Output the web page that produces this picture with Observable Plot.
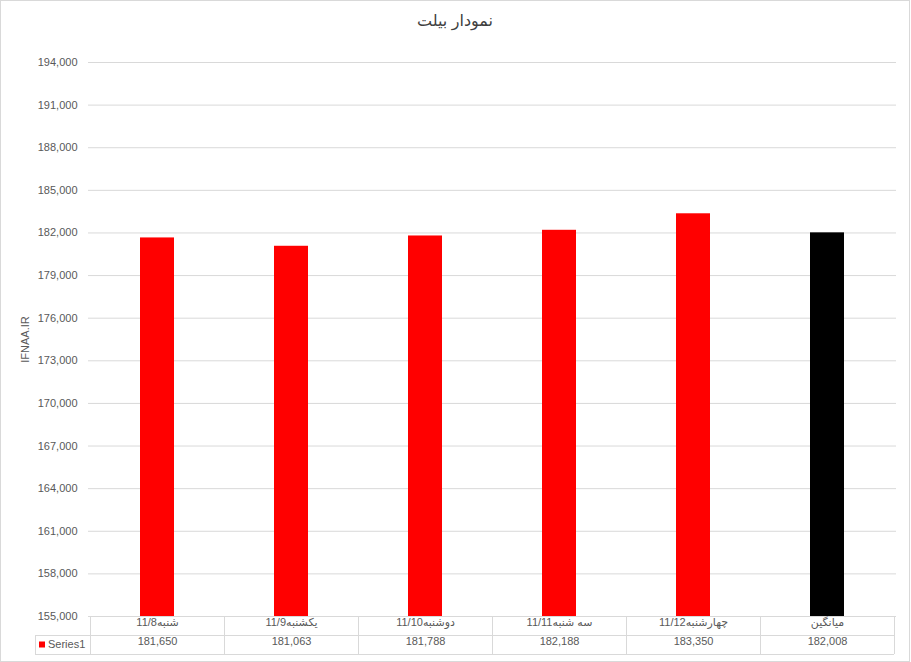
<!DOCTYPE html>
<html><head><meta charset="utf-8">
<script src="https://cdn.jsdelivr.net/npm/d3@7"></script>
<script src="https://cdn.jsdelivr.net/npm/@observablehq/plot@0.6"></script>
<style>
body{margin:0;background:#fff;font-family:"Liberation Sans","DejaVu Sans",sans-serif;}
#frame{position:relative;width:910px;height:662px;box-sizing:border-box;border:1px solid #d9d9d9;background:#fff;overflow:hidden}
#title{height:39px;line-height:40px;text-align:center;font-size:16px;color:#404040;}
#chart svg{display:block;}
</style></head><body>
<div id="frame"><div id="title"></div><div id="chart"></div></div>
<script>
const title = "نمودار بیلت";
const categories = ["شنبه11/8", "یکشنبه11/9", "دوشنبه11/10", "سه شنبه11/11", "چهارشنبه11/12", "میانگین"];
const values = [181650, 181063, 181788, 182188, 183350, 182008];
const averageCategory = "میانگین";
const seriesName = "Series1";
const yAxisLabel = "IFNAA.IR";
const yTicks = [155000, 158000, 161000, 164000, 167000, 170000, 173000, 176000, 179000, 182000, 185000, 188000, 191000, 194000];

document.getElementById("title").textContent = title;

const data = categories.map((c, i) => ({category: c, value: values[i]}));
const fmt = d3.format(",");
const textColor = "#595959";
const lineColor = "#d9d9d9";
const rowH = 19;

function tableMark(index, scales, channels, dimensions) {
  const x = scales.x;
  const {height, marginBottom} = dimensions;
  const step = x(categories[1]) - x(categories[0]);
  const top = height - marginBottom;
  const right = x(categories[categories.length - 1]) + step;
  const legendLeft = 34;
  const g = d3.create("svg:g");
  const lines = g.append("g").attr("stroke", lineColor).attr("fill", "none").attr("shape-rendering", "crispEdges");
  lines.append("line").attr("x1", legendLeft).attr("x2", right).attr("y1", top + rowH).attr("y2", top + rowH);
  lines.append("line").attr("x1", legendLeft).attr("x2", right).attr("y1", top + 2 * rowH).attr("y2", top + 2 * rowH);
  lines.append("line").attr("x1", legendLeft).attr("x2", legendLeft).attr("y1", top + rowH).attr("y2", top + 2 * rowH);
  for (const c of categories) {
    lines.append("line").attr("x1", x(c)).attr("x2", x(c)).attr("y1", top).attr("y2", top + 2 * rowH);
  }
  lines.append("line").attr("x1", right).attr("x2", right).attr("y1", top).attr("y2", top + 2 * rowH);
  g.append("rect").attr("x", legendLeft + 4).attr("y", top + rowH + 6.5).attr("width", 6).attr("height", 6).attr("fill", "#ff0000");
  g.append("text").attr("x", legendLeft + 13).attr("y", top + rowH * 1.5).attr("dy", "0.35em")
    .attr("text-anchor", "start").attr("fill", textColor).attr("font-size", 11).text(seriesName);
  return g.node();
}

const chart = Plot.plot({
  width: 908,
  height: 620,
  marginLeft: 87,
  marginRight: 13,
  marginTop: 22,
  marginBottom: 44,
  style: {fontFamily: '"Liberation Sans","DejaVu Sans",sans-serif', background: "#fff"},
  x: {domain: categories, padding: 0, axis: null},
  y: {domain: [yTicks[0], yTicks[yTicks.length - 1]]},
  marks: [
    Plot.gridY({ticks: yTicks, stroke: lineColor, strokeOpacity: 1}),
    Plot.axisY({ticks: yTicks, tickFormat: fmt, tickSize: 0, tickPadding: 11, fontSize: 11, color: textColor,
      label: yAxisLabel, labelAnchor: "center", labelArrow: "none", labelOffset: 67}),
    Plot.barY(data, {x: "category", y: "value", clip: true, insetLeft: 50, insetRight: 50,
      fill: d => d.category === averageCategory ? "#000000" : "#ff0000"}),
    tableMark,
    Plot.text(data, {x: "category", text: "category", frameAnchor: "bottom", dy: rowH / 2, fontSize: 11, fill: textColor}),
    Plot.text(data, {x: "category", text: d => fmt(d.value), frameAnchor: "bottom", dy: rowH * 1.5, fontSize: 11, fill: textColor})
  ]
});
document.getElementById("chart").appendChild(chart);
</script>
</body></html>
